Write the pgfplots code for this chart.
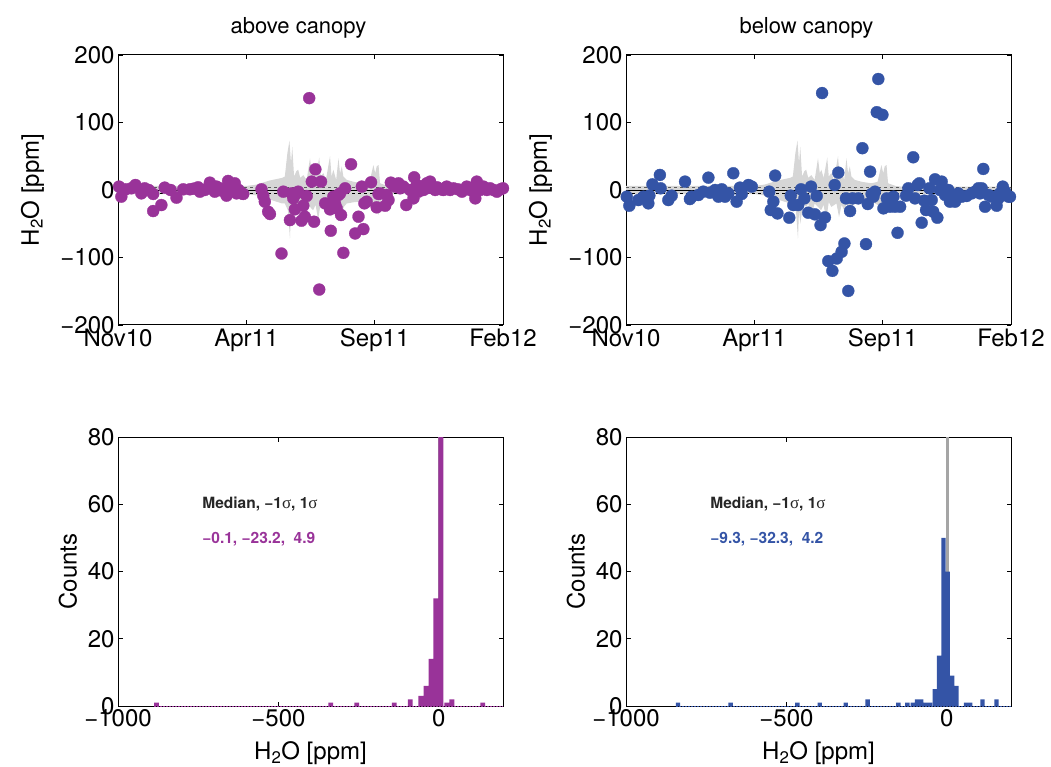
\documentclass[border=0pt]{standalone}
\usepackage{fontspec}
\setmainfont{TeX Gyre Heros}
\newfontfamily\sigmafont{Liberation Serif}
\usepackage{pgfplots}
\pgfplotsset{compat=1.18}
\definecolor{purp}{RGB}{153,51,153}
\definecolor{blu}{RGB}{52,84,166}
\definecolor{env}{RGB}{214,214,214}
\definecolor{medgray}{RGB}{165,165,165}
\definecolor{dgray}{RGB}{90,90,90}

\pgfplotsset{
  base/.style={scale only axis, width=385pt, height=270pt,
    axis line style={line width=1pt, black},
    tick style={line width=0.6pt, black}, major tick length=4.5pt, tick align=inside,
    ticklabel style={font=\fontsize{24}{28}\selectfont},
    label style={font=\fontsize{24}{28}\selectfont},
    title style={font=\fontsize{22}{26}\selectfont, anchor=base, at={(axis description cs:0.5,1)}, yshift=15pt, xshift=-12pt}},
  scat/.style={base, xmin=0, xmax=15, ymin=-200, ymax=200,
    xtick={0,5,10,15}, xticklabels={Nov10,Apr11,Sep11,Feb12},
    ytick={-200,-100,0,100,200}, yticklabels={−200,−100,0,100,200},
    ylabel={H\textsubscript{2}O [ppm]},
    ylabel style={at={(axis description cs:-0.222,0.5)}, anchor=center}},
  hist/.style={base, height=269pt, xmin=-1000, xmax=200, ymin=0, ymax=80,
    xtick={-1000,-500,0}, xticklabels={−1000,−500,0},
    ytick={0,20,40,60,80}, yticklabels={0,20,40,60,80},
    ylabel={Counts}, xlabel={H\textsubscript{2}O [ppm]},
    ylabel style={at={(axis description cs:-0.13,0.5)}, anchor=center},
    xlabel style={at={(axis description cs:0.5,-0.2)}, anchor=base}},
}

\pgfplotstableread{
m v
0 6
5.0 6
5.4 8
5.9 14
6.4 18
6.5 20
6.6 55
6.68 73
6.74 40
6.79 64
6.86 20
6.95 28
7.02 30
7.1 18
7.22 22
7.35 15
7.48 47
7.55 25
7.61 30
7.7 18
7.84 48
7.9 20
8.0 25
8.1 15
8.26 50
8.32 20
8.39 30
8.5 15
8.59 47
8.65 25
8.72 35
8.78 20
8.91 15
9.2 12
9.56 10
9.8 12
9.95 37
10.02 25
10.08 35
10.15 37
10.21 10
10.5 6
10.73 5
15 5
15 -5
10.73 -6
10.28 -10
10.15 -37
10.05 -20
9.95 -25
9.56 -17
9.2 -18
8.91 -20
8.8 -25
8.72 -35
8.6 -20
8.5 -30
8.4 -22
8.3 -40
8.2 -20
8.0 -25
7.9 -18
7.8 -45
7.7 -22
7.6 -30
7.48 -25
7.35 -20
7.22 -40
7.1 -20
7.02 -25
6.9 -20
6.79 -50
6.74 -30
6.7 -72
6.62 -30
6.5 -20
6.4 -20
5.9 -14
5.4 -8
5.0 -6
0 -6
}\envtab

\pgfplotstableread{
m v
0.04 5.0
0.13 -9.9
0.30 1.0
0.52 2.5
0.68 7.4
0.91 -5.0
1.04 2.5
1.20 0
1.37 -5.9
1.37 -31.2
1.69 -22.3
1.82 3.5
2.05 0
2.28 -11.4
2.54 1.0
2.80 1.0
2.95 2.0
3.12 4.0
3.19 -2.5
3.38 0
3.50 3.0
3.58 10.9
3.64 2.5
3.77 -2.5
3.84 5.0
3.97 2.5
4.05 -1.0
4.16 0
4.23 -8.4
4.29 13.4
4.42 0
4.49 7.4
4.55 9.9
4.62 -5.0
4.70 0
4.81 -5.0
4.88 -5.9
5.59 1.0
5.66 -8.4
5.72 -17.3
5.85 -32.2
5.92 -35.6
6.37 -94.1
6.44 -2.5
6.70 -44.6
6.76 -5.0
6.83 -12.4
6.89 -28.7
6.96 -5.0
7.02 -2.5
7.15 -45.5
7.22 -23.3
7.28 -39.6
7.35 -8.9
7.45 136.1
7.55 12.4
7.64 -47.0
7.69 30.7
7.84 -147.5
7.91 12.4
8.07 -19.8
8.20 -20.8
8.26 -28.7
8.29 -60.4
8.39 -9.9
8.46 -20.8
8.52 -27.2
8.59 -7.4
8.65 -5.0
8.69 -37.1
8.78 -93.1
8.85 2.5
9.08 38.1
9.24 -64.4
9.37 -39.6
9.50 5.0
9.56 -57.9
9.60 -19.8
9.69 -17.3
9.86 11.4
10.08 -25.7
10.15 -5.9
10.21 -5.0
10.41 -23.3
10.47 -7.4
10.54 -14.9
10.63 10.9
10.73 7.4
10.80 5.0
10.93 9.9
10.99 2.5
11.12 5.0
11.23 -22.3
11.38 0
11.51 -12.4
11.54 18.8
11.64 7.4
11.71 -2.5
11.78 2.0
11.84 5.0
11.90 0
11.97 4.0
12.03 9.9
12.10 3.0
12.16 12.4
12.23 5.0
12.30 2.0
12.36 0
12.43 4.0
12.49 2.5
12.58 1.0
12.68 0
12.75 3.0
12.81 5.0
12.94 0
13.07 2.5
13.25 1.0
13.40 -2.5
13.59 5.0
13.72 0
13.92 -12.4
13.98 12.4
14.11 0
14.24 5.0
14.37 0
14.50 2.5
14.63 0
14.76 -2.5
14.90 1.0
15.0 2.5
}\abovetab

\pgfplotstableread{
m v
0.03 -9.9
0.13 -23.3
0.48 -14.9
0.68 -9.9
0.87 -19.8
0.91 -8.4
1.03 8.4
1.32 22.3
1.35 2.5
1.65 -14.9
1.78 -8.4
2.30 12.4
2.49 -13.4
2.56 -9.9
2.82 -7.4
3.01 -2.5
3.21 18.3
3.27 -4.0
3.47 0
3.60 -9.9
3.66 -2.5
3.73 1.0
3.86 -9.9
3.99 -5.0
4.18 24.8
4.31 -17.3
4.44 3.5
4.51 -5.9
4.77 7.4
4.90 5.0
5.58 -2.5
5.64 -29.7
5.74 -17.3
5.81 21.3
5.90 -34.7
6.36 -41.1
6.42 -8.4
6.52 -22.3
6.71 -22.3
6.82 1.0
6.95 -12.4
7.10 -33.7
7.21 5.0
7.36 -36.1
7.43 -8.9
7.58 -52.0
7.64 143.6
7.75 -40.6
7.88 -105.4
8.04 -119.8
8.13 7.4
8.21 -101.5
8.27 25.7
8.40 -91.6
8.51 -79.2
8.57 -12.4
8.66 -149.5
8.73 -31.2
8.83 -12.4
9.05 -12.4
9.21 61.9
9.35 -80.2
9.42 -20.8
9.51 27.2
9.57 -5.9
9.64 -9.9
9.70 -2.5
9.77 115.3
9.83 164.4
9.99 111.4
10.03 -27.2
10.16 -12.4
10.29 -24.8
10.42 -9.9
10.48 -24.8
10.58 -63.4
10.68 -24.8
10.91 -8.4
11.00 2.5
11.19 48.5
11.26 -12.4
11.36 7.4
11.43 9.9
11.52 -48.5
11.62 -15.8
11.69 -29.7
11.82 2.5
11.91 -14.9
11.97 -32.2
12.04 15.8
12.13 -41.1
12.23 0
12.30 12.4
12.43 -7.4
12.56 0
12.62 -17.3
12.75 -9.9
12.82 -17.3
12.95 -5.0
13.08 -9.9
13.27 -8.9
13.47 -5.0
13.60 -2.5
13.73 2.5
13.79 -5.0
13.86 2.5
13.92 31.2
13.99 -24.8
14.12 -7.4
14.25 -9.9
14.38 -9.9
14.44 -23.3
14.51 -12.4
14.57 -5.0
14.68 5.0
14.77 -2.5
14.90 -9.9
14.96 -9.9
}\belowtab

\begin{document}
\begin{tikzpicture}
\useasboundingbox (0,0) rectangle (1051pt,766pt);

% ---------------- top left
\begin{axis}[scat, at={(118pt,441pt)}, anchor=south west, title={above canopy}]
\addplot[fill=env, draw=none] table[x=m,y=v] {\envtab} -- cycle;
\addplot[black, line width=0.8pt] coordinates {(0,0) (15,0)};
\addplot[dgray, dashed, line width=0.8pt] coordinates {(0,4.5) (15,4.5)};
\addplot[black, dashed, line width=0.8pt] coordinates {(0,-4.5) (15,-4.5)};
\addplot[only marks, mark=*, mark size=6pt, mark options={fill=purp, draw=purp, line width=0.3pt}] table[x=m,y=v] {\abovetab};
\end{axis}

% ---------------- top right
\begin{axis}[scat, at={(626pt,441pt)}, anchor=south west, title={below canopy}]
\addplot[fill=env, draw=none] table[x=m,y=v] {\envtab} -- cycle;
\addplot[black, line width=0.8pt] coordinates {(0,0) (15,0)};
\addplot[dgray, dashed, line width=0.8pt] coordinates {(0,4.5) (15,4.5)};
\addplot[black, dashed, line width=0.8pt] coordinates {(0,-4.5) (15,-4.5)};
\addplot[only marks, mark=*, mark size=6pt, mark options={fill=blu, draw=blu, line width=0.3pt}] table[x=m,y=v] {\belowtab};
\end{axis}

% ---------------- bottom left
\begin{axis}[hist, at={(118pt,60pt)}, anchor=south west]
\addplot[ybar, bar width=8, fill=medgray, draw=none] coordinates {(0,200)};
\addplot[purp, line width=0.8pt, dash pattern=on 2pt off 1pt] coordinates {(-887,0) (200,0)};
\addplot[ybar, bar width=15.3, fill=purp, draw=none] coordinates {
(-880,1) (-337,1) (-256,1) (-139,1) (-89,2) (-56,3) (-40,6) (-24.5,14) (-9,32) (6.3,110) (25,1) (40.5,2) (137,1)};
\node[anchor=west, font=\bfseries\fontsize{15.5}{18}\selectfont, text=black!85] at (axis cs:-748,60) {Median, −1{\sigmafont\mdseries\fontsize{17}{18}\selectfont σ}, 1{\sigmafont\mdseries\fontsize{17}{18}\selectfont σ}};
\node[anchor=west, font=\bfseries\fontsize{15.5}{18}\selectfont, text=purp] at (axis cs:-748,49.5) {−0.1, −23.2,\ \ 4.9};
\end{axis}

% ---------------- bottom right
\begin{axis}[hist, at={(626pt,60pt)}, anchor=south west]
\addplot[ybar, bar width=8, fill=medgray, draw=none] coordinates {(2,200)};
\addplot[blu, line width=0.8pt, dash pattern=on 2pt off 1pt] coordinates {(-845,0) (200,0)};
\addplot[ybar, bar width=13.5, fill=blu, draw=none] coordinates {
(-838,1) (-674,1) (-466,1) (-396,1) (-315,1) (-247,2) (-151,1) (-123,1) (-106,1) (-93,2) (-80,2) (-66,1) (-53,1) (-37.5,5) (-24,15) (-10.5,50) (3,40) (16.5,9) (30,6) (60,1) (73,1) (111,2) (155,2)};
\node[anchor=west, font=\bfseries\fontsize{15.5}{18}\selectfont, text=black!85] at (axis cs:-748,60) {Median, −1{\sigmafont\mdseries\fontsize{17}{18}\selectfont σ}, 1{\sigmafont\mdseries\fontsize{17}{18}\selectfont σ}};
\node[anchor=west, font=\bfseries\fontsize{15.5}{18}\selectfont, text=blu] at (axis cs:-748,49.5) {−9.3, −32.3,\ \ 4.2};
\end{axis}
\end{tikzpicture}
\end{document}
